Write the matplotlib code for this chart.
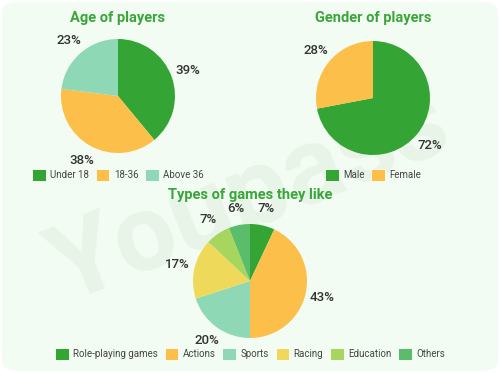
import matplotlib.pyplot as plt
from matplotlib.patches import FancyBboxPatch, Patch

plt.rcParams["font.family"] = ["Roboto", "DejaVu Sans"]

# data
age_labels = ["Under 18", "18-36", "Above 36"]
age_values = [39, 38, 23]
gender_labels = ["Male", "Female"]
gender_values = [72, 28]
game_labels = ["Role-playing games", "Actions", "Sports", "Racing", "Education", "Others"]
game_values = [7, 43, 20, 17, 7, 6]

GREEN = "#34a535"
ORANGE = "#fbbf4a"
MINT = "#8fd8b6"
YELLOW = "#efd95a"
LIME = "#a6d65e"
MIDGREEN = "#5bbd6b"
TITLE = "#3aa53a"
TEXT = "#333333"

W, H = 500, 373
R = 57  # pie radius in px
fig = plt.figure(figsize=(W / 100, H / 100), dpi=100)
fig.patch.set_facecolor("white")

card = FancyBboxPatch((2 / W, 2 / H), 496 / W, 369 / H,
                      boxstyle="round,pad=0,rounding_size=0.03",
                      transform=fig.transFigure, facecolor="#f2fcf2",
                      edgecolor="none", zorder=-10)
fig.patches.append(card)

# faint watermark behind everything
fig.text(0.5, 0.47, "Youpass", ha="center", va="center", fontsize=78,
         fontweight="bold", color="#e7f4e7", rotation=22, zorder=-5)


def draw_pie(cx, cy, values, labels, colors, title, title_y, legend_y, lim=1.5):
    size = 2 * R * lim
    ax = fig.add_axes([(cx - size / 2) / W, (H - cy - size / 2) / H, size / W, size / H])
    ax.set_zorder(1)
    ax.patch.set_alpha(0)
    ax.pie(
        values, colors=colors, startangle=90, counterclock=False,
        autopct=lambda p: f"{p:.0f}%", pctdistance=1.3,
        wedgeprops=dict(linewidth=0),
        textprops=dict(color=TEXT, fontsize=9.5, fontweight="medium"),
    )
    ax.set_xlim(-lim, lim)
    ax.set_ylim(-lim, lim)
    ax.set_aspect("equal")
    ax.axis("off")
    fig.text(cx / W, 1 - title_y / H, title, ha="center", va="center",
             fontsize=10.5, fontweight="bold", color=TITLE)
    handles = [Patch(facecolor=c, edgecolor="white", linewidth=0.6) for c in colors]
    fig.legend(handles, labels, loc="center", bbox_to_anchor=(cx / W, 1 - legend_y / H),
               ncol=len(labels), frameon=False, fontsize=7, labelcolor="#444444",
               handlelength=1.4, handleheight=1.4, handletextpad=0.45,
               columnspacing=0.7, borderpad=0)


draw_pie(118, 96, age_values, age_labels, [GREEN, ORANGE, MINT],
         "Age of players", 18, 175)
draw_pie(373, 98, gender_values, gender_labels, [GREEN, ORANGE],
         "Gender of players", 18, 175)
draw_pie(250, 281, game_values, game_labels,
         [GREEN, ORANGE, MINT, YELLOW, LIME, MIDGREEN],
         "Types of games they like", 195, 354)

fig.savefig("out.png", dpi=100)
